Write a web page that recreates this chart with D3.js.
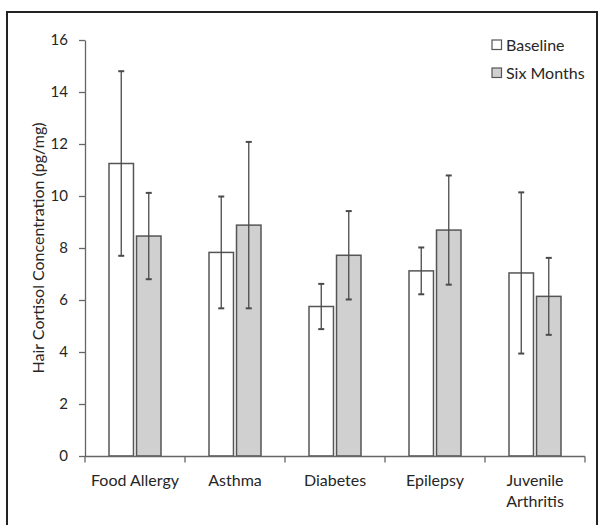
<!DOCTYPE html>
<html><head><meta charset="utf-8">
<script src="https://cdn.jsdelivr.net/npm/d3@7"></script>
<style>body{margin:0;background:#fff}svg{display:block}text{font-family:Lato,"Open Sans",sans-serif;fill:#262626}</style>
</head><body><svg id="c" width="603" height="525"></svg>
<script>
const categories = ["Food Allergy", "Asthma", "Diabetes", "Epilepsy", "Juvenile Arthritis"];
const seriesNames = ["Baseline", "Six Months"];
const baseline = [11.25, 7.83, 5.75, 7.12, 7.04];
const baselineErr = [3.55, 2.15, 0.87, 0.9, 3.1];
const sixMonths = [8.46, 8.88, 7.72, 8.69, 6.14];
const sixMonthsErr = [1.66, 3.2, 1.7, 2.1, 1.48];
const yTicks = [0, 2, 4, 6, 8, 10, 12, 14, 16];
const yLabel = "Hair Cortisol Concentration (pg/mg)";
const fills = ["#ffffff", "#d0d0d0"];

const svg = d3.select("#c");
svg.append("rect").attr("x", 7).attr("y", 12).attr("width", 590).attr("height", 530)
  .attr("fill", "none").attr("stroke", "#222").attr("stroke-width", 2);

const x0 = d3.scaleBand().domain(categories).range([85, 585]).paddingInner(0).paddingOuter(0);
const x1 = d3.scaleBand().domain(seriesNames).range([24, 76]).paddingInner(0.11);
const y = d3.scaleLinear().domain([0, 16]).range([456, 40]);

const data = categories.map((c, i) => ({c, vals: [
  {s: seriesNames[0], v: baseline[i], e: baselineErr[i], f: fills[0]},
  {s: seriesNames[1], v: sixMonths[i], e: sixMonthsErr[i], f: fills[1]}]}));

const g = svg.append("g");
const grp = g.selectAll("g.cat").data(data).join("g").attr("transform", d => `translate(${x0(d.c)},0)`);
grp.selectAll("rect").data(d => d.vals).join("rect")
  .attr("x", d => x1(d.s)).attr("width", x1.bandwidth())
  .attr("y", d => y(d.v)).attr("height", d => y(0) - y(d.v))
  .attr("fill", d => d.f).attr("stroke", "#555").attr("stroke-width", 1.5);
const eb = grp.selectAll("g.eb").data(d => d.vals).join("g").attr("class", "eb")
  .attr("stroke", "#4a4a4a");
eb.append("line").attr("x1", d => x1(d.s) + x1.bandwidth()/2).attr("x2", d => x1(d.s) + x1.bandwidth()/2)
  .attr("y1", d => y(d.v + d.e)).attr("y2", d => y(d.v - d.e)).attr("stroke-width", 1.3);
[1, -1].forEach(sg => {
  eb.append("line").attr("x1", d => x1(d.s) + x1.bandwidth()/2 - 3).attr("x2", d => x1(d.s) + x1.bandwidth()/2 + 3)
    .attr("y1", d => y(d.v + sg*d.e)).attr("y2", d => y(d.v + sg*d.e)).attr("stroke-width", 2);
});

// Y axis
const ya = svg.append("g").attr("transform", "translate(85,0)")
  .call(d3.axisLeft(y).tickValues(yTicks).tickSize(6).tickSizeOuter(0).tickPadding(11));
ya.select(".domain").attr("stroke", "#666").attr("stroke-width", 1.3);
ya.selectAll(".tick line").attr("stroke", "#666").attr("stroke-width", 1.3);
ya.selectAll(".tick text").style("font-size", "15px").attr("fill", "#262626");

// X axis
const xa = svg.append("g").attr("transform", "translate(0,456.5)");
xa.append("line").attr("x1", 85).attr("x2", 585).attr("stroke", "#666").attr("stroke-width", 1.3);
const bounds = categories.map(c => x0(c)).concat([x0.range()[1]]);
xa.selectAll("line.t").data(bounds).join("line").attr("class", "t")
  .attr("x1", d => d).attr("x2", d => d).attr("y1", 0).attr("y2", 6).attr("stroke", "#666").attr("stroke-width", 1.3);
const xt = xa.selectAll("text").data(categories).join("text")
  .attr("x", d => x0(d) + x0.bandwidth()/2).attr("y", 29).attr("text-anchor", "middle").style("font-size", "16px");
xt.each(function(d) {
  const words = d === "Juvenile Arthritis" ? ["Juvenile", "Arthritis"] : [d];
  d3.select(this).selectAll("tspan").data(words).join("tspan")
    .attr("x", x0(d) + x0.bandwidth()/2).attr("dy", (w, i) => i ? 21 : 0).text(w => w);
});

// Y label
svg.append("text").attr("transform", "translate(44,248) rotate(-90)").attr("text-anchor", "middle")
  .style("font-size", "16px").text(yLabel);

// Legend
const lg = svg.append("g").selectAll("g").data(seriesNames).join("g")
  .attr("transform", (d, i) => `translate(492,${40 + i*28})`);
lg.append("rect").attr("width", 9.5).attr("height", 9.5).attr("fill", (d, i) => fills[i]).attr("stroke", "#555").attr("stroke-width", 1.2);
lg.append("text").attr("x", 14).attr("y", 5).attr("dy", "0.35em").style("font-size", "16px").text(d => d);
</script></body></html>
